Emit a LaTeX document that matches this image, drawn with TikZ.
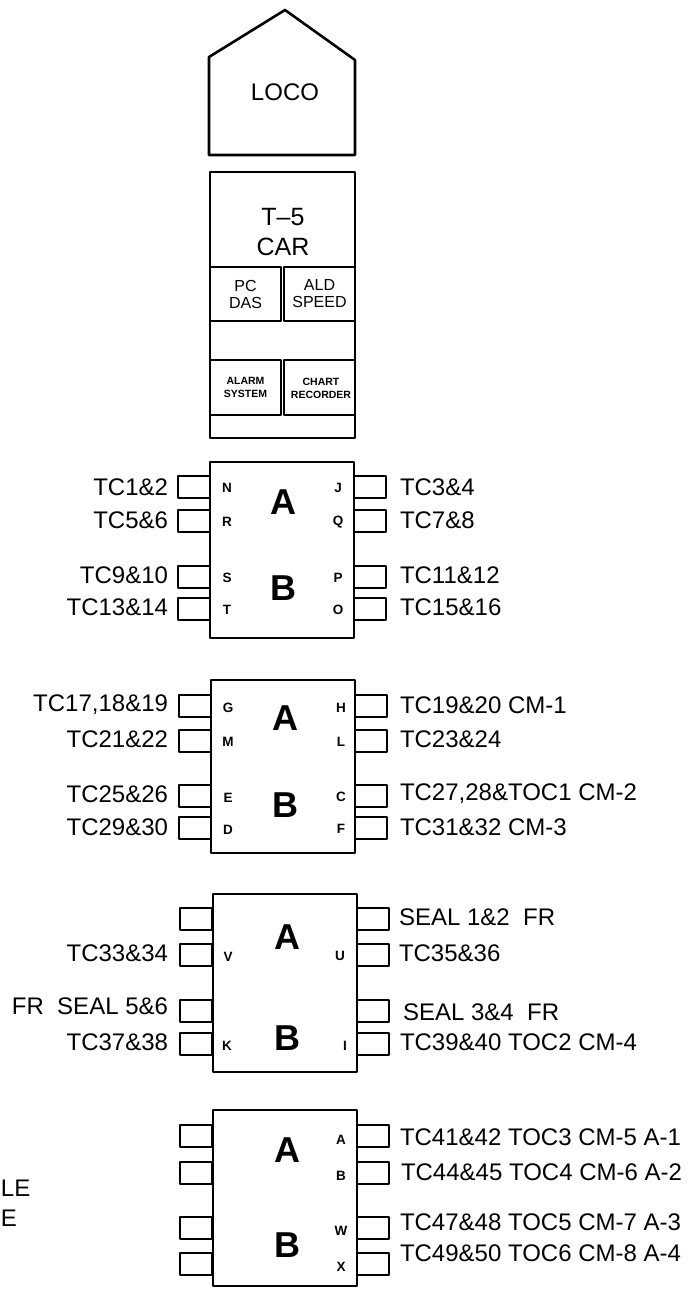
\documentclass[tikz,border=0pt]{standalone}
\usepackage{fontspec}
\setmainfont{Liberation Sans}
\begin{document}
\begin{tikzpicture}[x=1pt,y=-1pt,line width=2.6pt,line join=round,
  every node/.style={inner sep=0pt,outer sep=0pt},
  body/.style={draw,minimum width=144pt,minimum height=#1},
  pinbox/.style={draw,fill=white,minimum width=32pt,minimum height=22pt},
  lab/.style={font=\fontsize{24}{26}\selectfont},
  labl/.style={lab,anchor=east},
  labr/.style={lab,anchor=west},
  pl/.style={font=\bfseries\fontsize{13.5}{14}\selectfont},
  big/.style={font=\bfseries\fontsize{36}{38}\selectfont},
  sub/.style={draw,minimum width=71pt,minimum height=54pt,align=center,font=\fontsize{16}{17}\selectfont},
  tiny/.style={draw,minimum width=71pt,minimum height=55pt,align=center,font=\bfseries\fontsize{10.5}{13}\selectfont}]
\clip (0,0) rectangle (693,1289);
\fill[white] (0,0) rectangle (693,1289);
% LOCO
\draw (209,155) -- (209,57) -- (285,10) -- (355,60) -- (355,155) -- cycle;
\node[lab] (loco) at (285,92) {LOCO};
% T-5 car
\node[draw,minimum width=145pt,minimum height=266pt] (car) at (282.5,305) {};
\node[font=\fontsize{25}{30}\selectfont,align=center] (cartxt) at (283,232) {T–5\\CAR};
\node[sub,anchor=north west] (pcdas) at (210,267) {PC\\DAS};
\node[sub,anchor=north east] (ald) at (355,267) {ALD\\SPEED};
\node[tiny,anchor=north west] (alarm) at (210,360) {ALARM\\SYSTEM};
\node[tiny,anchor=north east] (chart) at (355,360) {};
\node[font=\bfseries\fontsize{10.5}{13}\selectfont,align=center] (charttxt) at (321,388) {CHART\\RECORDER};
% ---------- Block 1 ----------
\node[pinbox] (p1l1) at (194,487) {};
\node[pinbox] (p1l2) at (194,521) {};
\node[pinbox] (p1l3) at (194,577) {};
\node[pinbox] (p1l4) at (194,609) {};
\node[pinbox] (p1r1) at (370,487) {};
\node[pinbox] (p1r2) at (370,521) {};
\node[pinbox] (p1r3) at (370,577) {};
\node[pinbox] (p1r4) at (370,609) {};
\node[body=176pt,fill=white] (b1) at (282,550) {};
\node[big] (b1a) at (283,502) {A};
\node[big] (b1b) at (283,588) {B};
\node[pl] (b1n) at (227,488) {N};
\node[pl] (b1r) at (227,522) {R};
\node[pl] (b1s) at (227,578) {S};
\node[pl] (b1t) at (227,610) {T};
\node[pl] (b1j) at (338,488) {J};
\node[pl] (b1q) at (338,522) {Q};
\node[pl] (b1p) at (338,578) {P};
\node[pl] (b1o) at (338,610) {O};
\node[labl] (t1) at (168,487) {TC1\&2};
\node[labl] (t2) at (168,520) {TC5\&6};
\node[labl] (t3) at (168,575) {TC9\&10};
\node[labl] (t4) at (168,607) {TC13\&14};
\node[labr] (t5) at (400,487) {TC3\&4};
\node[labr] (t6) at (400,520) {TC7\&8};
\node[labr] (t7) at (400,575) {TC11\&12};
\node[labr] (t8) at (400,607) {TC15\&16};
% ---------- Block 2 ----------
\node[pinbox] (p2l1) at (195,706) {};
\node[pinbox] (p2l2) at (195,741) {};
\node[pinbox] (p2l3) at (195,796) {};
\node[pinbox] (p2l4) at (195,828) {};
\node[pinbox] (p2r1) at (371,706) {};
\node[pinbox] (p2r2) at (371,741) {};
\node[pinbox] (p2r3) at (371,796) {};
\node[pinbox] (p2r4) at (371,828) {};
\node[body=173pt,fill=white] (b2) at (283,766.5) {};
\node[big] (b2a) at (285,718) {A};
\node[big] (b2b) at (285,805) {B};
\node[pl] (b2g) at (228,708) {G};
\node[pl] (b2m) at (228,742) {M};
\node[pl] (b2e) at (228,798) {E};
\node[pl] (b2d) at (228,830) {D};
\node[pl] (b2h) at (341,708) {H};
\node[pl] (b2l) at (341,742) {L};
\node[pl] (b2c) at (341,797) {C};
\node[pl] (b2f) at (341,829) {F};
\node[labl] (t9) at (168,705) {TC17,18\&19};
\node[labl] (t10) at (168,739) {TC21\&22};
\node[labl] (t11) at (168,794) {TC25\&26};
\node[labl] (t12) at (168,827) {TC29\&30};
\node[labr] (t13) at (400,705) {TC19\&20 CM-1};
\node[labr] (t14) at (400,739) {TC23\&24};
\node[labr] (t15) at (400,794) {TC27,28\&TOC1 CM-2};
\node[labr] (t16) at (400,827) {TC31\&32 CM-3};
% ---------- Block 3 ----------
\node[pinbox] (p3l1) at (196,919) {};
\node[pinbox] (p3l2) at (196,955) {};
\node[pinbox] (p3l3) at (196,1011) {};
\node[pinbox] (p3l4) at (196,1044) {};
\node[pinbox] (p3r1) at (373,919) {};
\node[pinbox] (p3r2) at (373,955) {};
\node[pinbox] (p3r3) at (373,1011) {};
\node[pinbox] (p3r4) at (373,1044) {};
\node[body=178pt,fill=white] (b3) at (285,983) {};
\node[big] (b3a) at (287,937) {A};
\node[big] (b3b) at (287,1038) {B};
\node[pl] (b3v) at (228,957) {V};
\node[pl] (b3k) at (227,1046) {K};
\node[pl] (b3u) at (340,956) {U};
\node[pl] (b3i) at (345,1046) {I};
\node[labl] (t17) at (168,953) {TC33\&34};
\node[labl] (t18) at (168,1006) {FR\hspace{0.28em} SEAL 5\&6};
\node[labl] (t19) at (168,1042) {TC37\&38};
\node[labr] (t20) at (399,917) {SEAL 1\&2\hspace{0.28em} FR};
\node[labr] (t21) at (399,953) {TC35\&36};
\node[labr] (t22) at (403,1012) {SEAL 3\&4\hspace{0.28em} FR};
\node[labr] (t23) at (400,1042) {TC39\&40 TOC2 CM-4};
% ---------- Block 4 ----------
\node[pinbox] (p4l1) at (196,1136) {};
\node[pinbox] (p4l2) at (196,1173) {};
\node[pinbox] (p4l3) at (196,1228) {};
\node[pinbox] (p4l4) at (196,1264) {};
\node[pinbox] (p4r1) at (373,1136) {};
\node[pinbox] (p4r2) at (373,1173) {};
\node[pinbox] (p4r3) at (373,1228) {};
\node[pinbox] (p4r4) at (373,1264) {};
\node[body=176pt,fill=white] (b4) at (285,1198) {};
\node[big] (b4a) at (287,1150) {A};
\node[big] (b4b) at (287,1245) {B};
\node[pl] (b4ax) at (341,1140) {A};
\node[pl] (b4bx) at (341,1176) {B};
\node[pl] (b4w) at (341,1231) {W};
\node[pl] (b4x) at (341,1267) {X};
\node[labr] (t24) at (400,1137) {TC41\&42 TOC3 CM-5 A-1};
\node[labr] (t25) at (401,1172) {TC44\&45 TOC4 CM-6 A-2};
\node[labr] (t26) at (400,1222) {TC47\&48 TOC5 CM-7 A-3};
\node[labr] (t27) at (400,1253) {TC49\&50 TOC6 CM-8 A-4};
% text at left edge
\node[labr] (le) at (1,1188) {LE};
\node[labr] (e) at (1,1218) {E};
\end{tikzpicture}
\end{document}
